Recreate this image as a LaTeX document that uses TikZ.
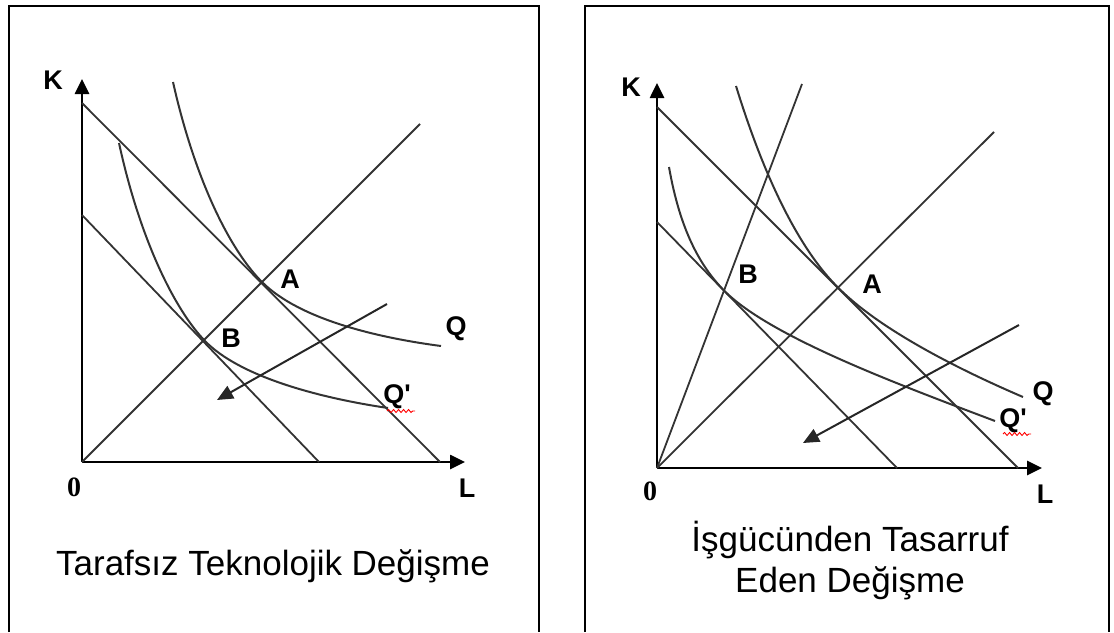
\documentclass[tikz,border=0pt]{standalone}
\usepackage{fontspec}
\setmainfont{Liberation Sans}
\newfontfamily\zerofont{Liberation Serif}
\usetikzlibrary{arrows.meta, decorations.pathmorphing}
\tikzset{
  ec frame/.style={
    draw=black, line width=2pt
  },
  ec axis/.style={
    -{Triangle[length=15pt, width=14pt]}, line width=2.6pt, draw=black
  },
  ec line/.style={
    draw=black!80, line width=1.8pt
  },
  ec curve/.style={
    draw=black!80, line width=2pt
  },
  ec shift/.style={
    -{Triangle[length=16pt, width=14pt]}, draw=black!85, line width=2pt
  },
  ec label/.style={
    font=\fontsize{27}{30}\selectfont\bfseries, inner sep=0pt
  },
  ec zero/.style={
    font=\fontsize{28}{30}\selectfont\zerofont\bfseries, inner sep=0pt
  },
  ec title/.style={
    font=\fontsize{35}{41}\selectfont, align=center, inner sep=0pt
  },
  ec spell/.style={
    draw=red, line width=0.9pt, decorate,
    decoration={snake, segment length=5pt, amplitude=1.5pt}
  }
}

\begin{document}
\begin{tikzpicture}[x=1pt, y=-1pt]
  \useasboundingbox (0,0) rectangle (1114,632);

  \draw [ec frame] (9,632) -- (9,6) -- (539,6) -- (539,632);
  \draw [ec frame] (585,632) -- (585,6) -- (1109,6) -- (1109,632);

  % neutral change
  \coordinate (o1) at (82,462);
  \coordinate (k1) at (82,79);
  \coordinate (l1) at (465,462);
  \coordinate (c1a) at (82,103);
  \coordinate (c1b) at (440,462);
  \coordinate (c2a) at (82,215);
  \coordinate (c2b) at (319,462);
  \coordinate (r1) at (420,124);
  \coordinate (a1) at (262,282);
  \coordinate (b1) at (205,341);
  \coordinate (s1a) at (387,304);
  \coordinate (s1b) at (217,400);

  \draw [ec axis] (o1) -- (k1);
  \draw [ec axis] (o1) -- (l1);
  \draw [ec line] (c1a) -- (c1b);
  \draw [ec line] (c2a) -- (c2b);
  \draw [ec line] (o1) -- (r1);
  \draw [ec curve] (173,82) .. controls (195,180) and (230,250) .. (a1)
    .. controls (300,320) and (380,338) .. (441,346);
  \draw [ec curve] (119,143) .. controls (140,240) and (175,310) .. (b1)
    .. controls (240,377) and (320,398) .. (388,408);
  \draw [ec shift] (s1a) -- (s1b);

  \node (kn1) [ec label] at (53,80) {K};
  \node (ln1) [ec label] at (467,488) {L};
  \node (zn1) [ec zero] at (74,487) {0};
  \node (an1) [ec label] at (290,279) {A};
  \node (bn1) [ec label] at (231,338) {B};
  \node (qn1) [ec label] at (456,329) {Q};
  \node (qp1) [ec label] at (397,397) {Q\textquotesingle};
  \draw [ec spell] (387,411) -- (415,411);
  \node (t1) [ec title, anchor=base] at (273,575) {Tarafsız Teknolojik Değişme};

  % labour saving change
  \coordinate (o2) at (657,468);
  \coordinate (k2) at (657,83);
  \coordinate (l2) at (1042,468);
  \coordinate (c3a) at (657,107);
  \coordinate (c3b) at (1018,468);
  \coordinate (c4a) at (657,222);
  \coordinate (c4b) at (897,468);
  \coordinate (r2) at (994,132);
  \coordinate (r3) at (802,84);
  \coordinate (a2) at (838,287.5);
  \coordinate (b2) at (724,290.5);
  \coordinate (s2a) at (1019,325);
  \coordinate (s2b) at (803,443);

  \draw [ec axis] (o2) -- (k2);
  \draw [ec axis] (o2) -- (l2);
  \draw [ec line] (c3a) -- (c3b);
  \draw [ec line] (c4a) -- (c4b);
  \draw [ec line] (o2) -- (r2);
  \draw [ec line] (o2) -- (r3);
  \draw [ec curve] (736,86) .. controls (765,180) and (800,250) .. (a2)
    .. controls (880,330) and (960,370) .. (1023,397);
  \draw [ec curve] (669,167) .. controls (680,230) and (700,266) .. (b2)
    .. controls (770,337) and (900,385) .. (995,421);
  \draw [ec shift] (s2a) -- (s2b);

  \node (kn2) [ec label] at (631,87) {K};
  \node (ln2) [ec label] at (1045,494) {L};
  \node (zn2) [ec zero] at (650,491) {0};
  \node (an2) [ec label] at (872,284) {A};
  \node (bn2) [ec label] at (748,274) {B};
  \node (qn2) [ec label] at (1043,394) {Q};
  \node (qp2) [ec label] at (1013,421) {Q\textquotesingle};
  \draw [ec spell] (1003,434) -- (1031,434);
  \node (t2) [ec title, anchor=base] at (850,592) {İşgücünden Tasarruf\\Eden Değişme};
\end{tikzpicture}
\end{document}
